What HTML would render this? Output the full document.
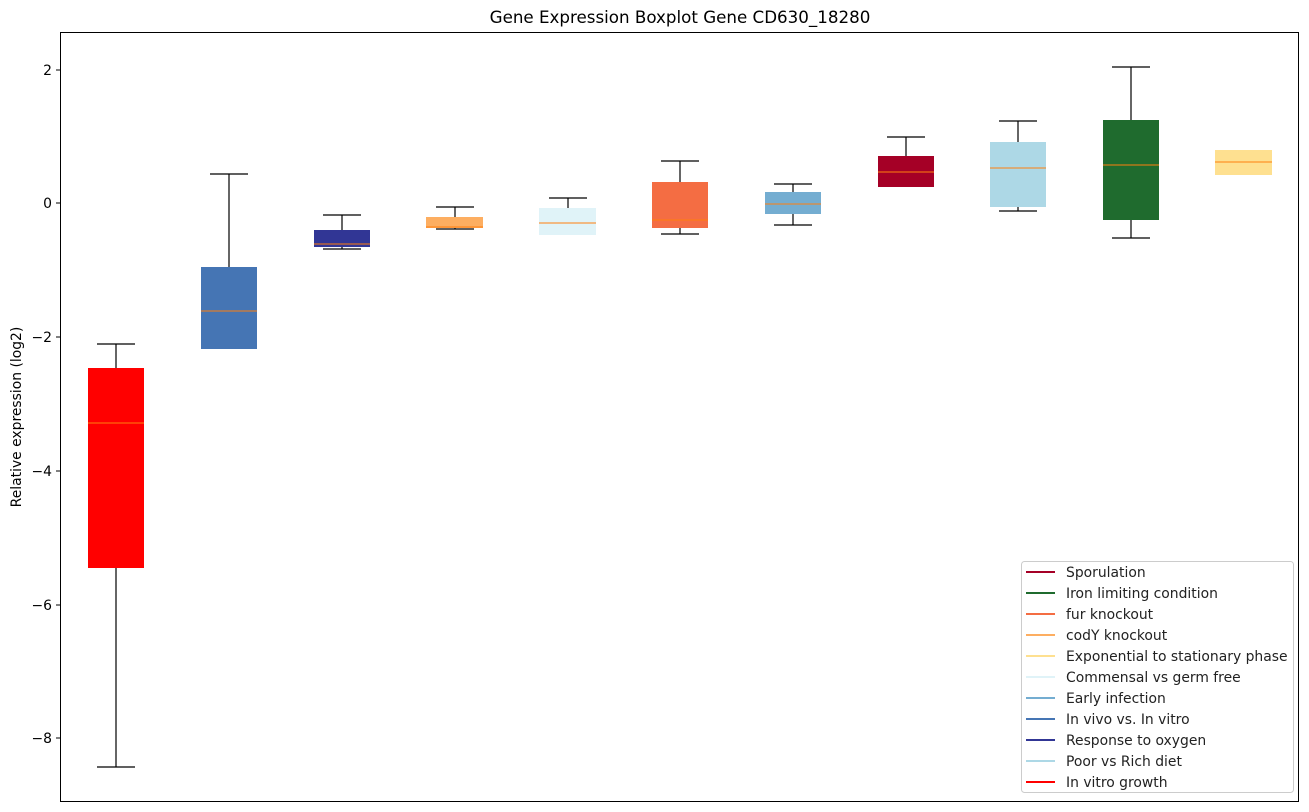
<!DOCTYPE html>
<html><head><meta charset="utf-8"><style>body{margin:0;background:#fff}svg{display:block;font-family:"DejaVu Sans","Liberation Sans",sans-serif}</style></head><body>
<svg width="1309" height="812" xmlns="http://www.w3.org/2000/svg">
<rect width="1309" height="812" fill="#fff"/>
<text x="680" y="23" font-size="16.7" text-anchor="middle">Gene Expression Boxplot Gene CD630_18280</text>
<g stroke="#000" stroke-width="1.2">
<line x1="116" y1="344" x2="116" y2="767"/><line x1="97" y1="344" x2="135" y2="344"/><line x1="97" y1="767" x2="135" y2="767"/>
<line x1="229" y1="174" x2="229" y2="349"/><line x1="210" y1="174" x2="248" y2="174"/>
<line x1="342" y1="215" x2="342" y2="249"/><line x1="323" y1="215" x2="361" y2="215"/><line x1="323" y1="249" x2="361" y2="249"/>
<line x1="455" y1="207" x2="455" y2="229"/><line x1="436" y1="207" x2="474" y2="207"/><line x1="436" y1="229" x2="474" y2="229"/>
<line x1="568" y1="198" x2="568" y2="208"/><line x1="549" y1="198" x2="587" y2="198"/>
<line x1="680" y1="161" x2="680" y2="234"/><line x1="661" y1="161" x2="699" y2="161"/><line x1="661" y1="234" x2="699" y2="234"/>
<line x1="793" y1="184" x2="793" y2="225"/><line x1="774" y1="184" x2="812" y2="184"/><line x1="774" y1="225" x2="812" y2="225"/>
<line x1="906" y1="137" x2="906" y2="187"/><line x1="887" y1="137" x2="925" y2="137"/>
<line x1="1018" y1="121" x2="1018" y2="211"/><line x1="999" y1="121" x2="1037" y2="121"/><line x1="999" y1="211" x2="1037" y2="211"/>
<line x1="1131" y1="67" x2="1131" y2="238"/><line x1="1112" y1="67" x2="1150" y2="67"/><line x1="1112" y1="238" x2="1150" y2="238"/>
</g>
<g>
<rect x="88" y="368" width="56" height="200" fill="#ff0000"/>
<rect x="201" y="267" width="56" height="82" fill="#4575b4"/>
<rect x="314" y="230" width="56" height="17" fill="#313695"/>
<rect x="426" y="217" width="57" height="11" fill="#fdae61"/>
<rect x="539" y="208" width="57" height="27" fill="#e0f3f8"/>
<rect x="652" y="182" width="56" height="46" fill="#f46d43"/>
<rect x="765" y="192" width="56" height="22" fill="#74add1"/>
<rect x="878" y="156" width="56" height="31" fill="#a50026"/>
<rect x="990" y="142" width="56" height="65" fill="#add8e6"/>
<rect x="1103" y="120" width="56" height="100" fill="#1f6b2e"/>
<rect x="1215" y="150" width="57" height="25" fill="#fee090"/>
</g>
<g stroke="#ff7f0e" stroke-width="1">
<line x1="88" y1="423" x2="144" y2="423"/><line x1="201" y1="311" x2="257" y2="311"/>
<line x1="314" y1="244" x2="370" y2="244"/><line x1="426" y1="227" x2="483" y2="227"/>
<line x1="539" y1="223" x2="596" y2="223"/><line x1="652" y1="220" x2="708" y2="220"/>
<line x1="765" y1="204" x2="821" y2="204"/><line x1="878" y1="172" x2="934" y2="172"/>
<line x1="990" y1="168" x2="1046" y2="168"/><line x1="1103" y1="165" x2="1159" y2="165"/>
<line x1="1215" y1="162" x2="1272" y2="162"/>
</g>
<rect x="60.5" y="32.5" width="1238" height="769" fill="none" stroke="#000" stroke-width="1"/>
<g stroke="#000"><line x1="56" y1="70" x2="60" y2="70"/><line x1="56" y1="203" x2="60" y2="203"/><line x1="56" y1="337" x2="60" y2="337"/><line x1="56" y1="471" x2="60" y2="471"/><line x1="56" y1="605" x2="60" y2="605"/><line x1="56" y1="738" x2="60" y2="738"/></g>
<g font-size="13.9" text-anchor="end">
<text x="52" y="75">2</text><text x="52" y="208">0</text><text x="52" y="342">−2</text><text x="52" y="476">−4</text><text x="52" y="610">−6</text><text x="52" y="743">−8</text>
</g>
<text transform="translate(21,417) rotate(-90)" font-size="13.9" text-anchor="middle">Relative expression (log2)</text>
<rect x="1021.5" y="561.5" width="272" height="231" rx="3" fill="#fff" stroke="#ccc"/>
<g stroke-width="2">
<line x1="1026" y1="572" x2="1055" y2="572" stroke="#a50026"/>
<line x1="1026" y1="593" x2="1055" y2="593" stroke="#1f6b2e"/>
<line x1="1026" y1="614" x2="1055" y2="614" stroke="#f46d43"/>
<line x1="1026" y1="635" x2="1055" y2="635" stroke="#fdae61"/>
<line x1="1026" y1="656" x2="1055" y2="656" stroke="#fee090"/>
<line x1="1026" y1="677" x2="1055" y2="677" stroke="#e0f3f8"/>
<line x1="1026" y1="698" x2="1055" y2="698" stroke="#74add1"/>
<line x1="1026" y1="719" x2="1055" y2="719" stroke="#4575b4"/>
<line x1="1026" y1="740" x2="1055" y2="740" stroke="#313695"/>
<line x1="1026" y1="761" x2="1055" y2="761" stroke="#add8e6"/>
<line x1="1026" y1="782" x2="1055" y2="782" stroke="#ff0000"/>
</g>
<g font-size="13.9" fill="#222">
<text x="1066" y="577">Sporulation</text>
<text x="1066" y="598">Iron limiting condition</text>
<text x="1066" y="619">fur knockout</text>
<text x="1066" y="640">codY knockout</text>
<text x="1066" y="661">Exponential to stationary phase</text>
<text x="1066" y="682">Commensal vs germ free</text>
<text x="1066" y="703">Early infection</text>
<text x="1066" y="724">In vivo vs. In vitro</text>
<text x="1066" y="745">Response to oxygen</text>
<text x="1066" y="766">Poor vs Rich diet</text>
<text x="1066" y="787">In vitro growth</text>
</g>
</svg>
</body></html>
